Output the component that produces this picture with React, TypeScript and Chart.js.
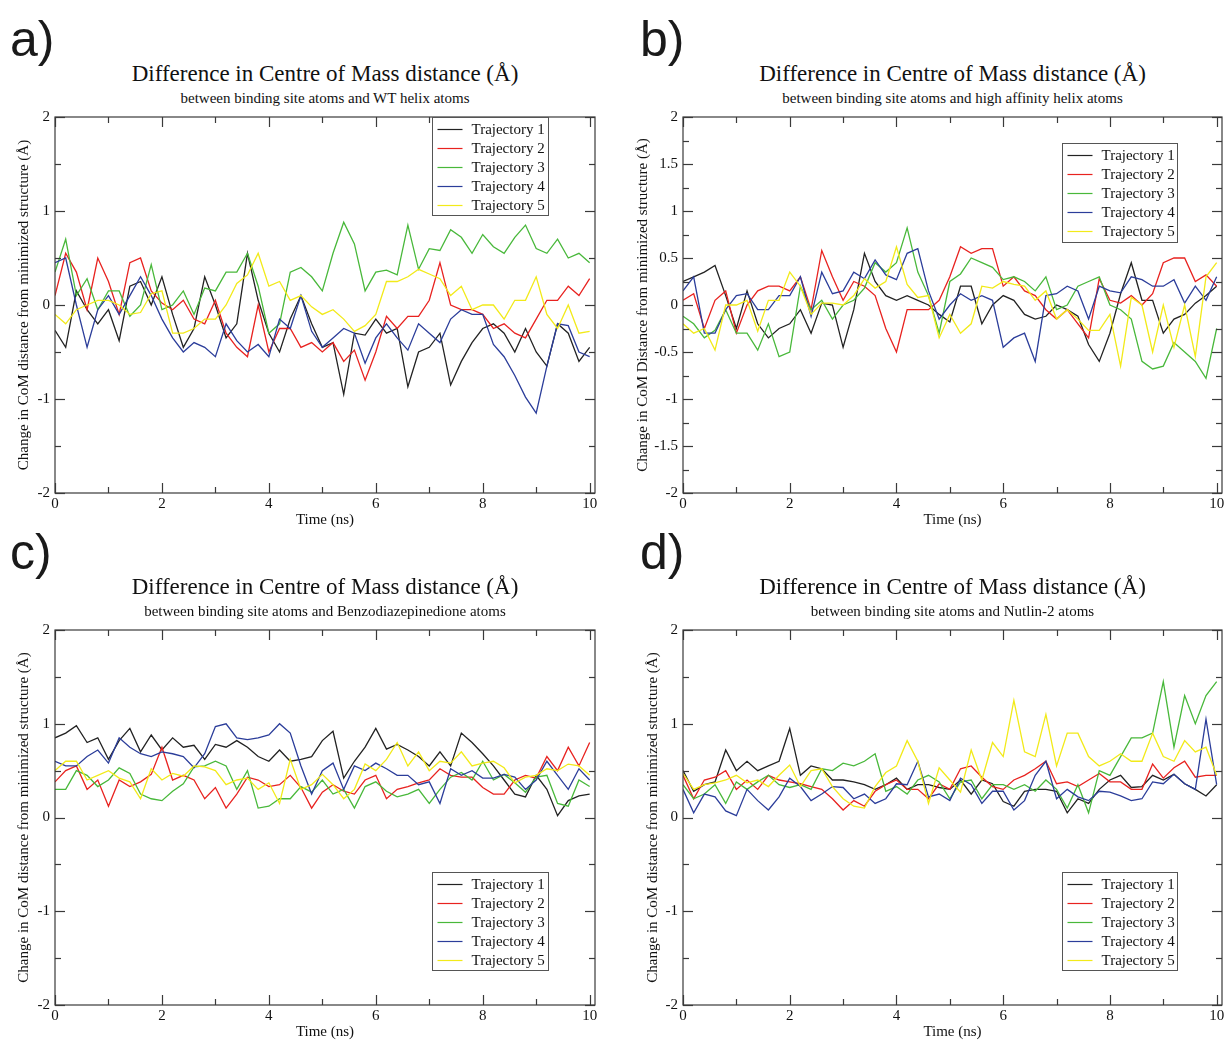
import React, { useEffect, useRef } from "react";
import { Chart, registerables } from "chart.js";

Chart.register(...registerables);

// ---------- data ----------
const TIME = [0, 0.2, 0.4, 0.6, 0.8, 1, 1.2, 1.4, 1.6, 1.8, 2, 2.2, 2.4, 2.6, 2.8, 3, 3.2, 3.4, 3.6, 3.8, 4, 4.2, 4.4, 4.6, 4.8, 5, 5.2, 5.4, 5.6, 5.8, 6, 6.2, 6.4, 6.6, 6.8, 7, 7.2, 7.4, 7.6, 7.8, 8, 8.2, 8.4, 8.6, 8.8, 9, 9.2, 9.4, 9.6, 9.8, 10];

const SERIES_LABELS = ["Trajectory 1", "Trajectory 2", "Trajectory 3", "Trajectory 4", "Trajectory 5"];

const TITLE = "Difference in Centre of Mass distance (Å)";
const SUBTITLES = [
  "between binding site atoms and WT helix atoms",
  "between binding site atoms and high affinity helix atoms",
  "between binding site atoms and Benzodiazepinedione atoms",
  "between binding site atoms and Nutlin-2 atoms",
];
const Y_TITLES = [
  "Change in CoM distance from minimized structure (Å)",
  "Change in CoM Distance from minimized structure (Å)",
  "Change in CoM distance from minimized structure (Å)",
  "Change in CoM distance from minimized structure (Å)",
];
const X_TITLE = "Time (ns)";
const PANEL_LETTERS = ["a)", "b)", "c)", "d)"];

const X_TICKS = [0, 2, 4, 6, 8, 10];
const X_MINOR = [1, 3, 5, 7, 9];
const Y_TICKS_INT = [-2, -1, 0, 1, 2];
const Y_MINOR_INT = [-1.5, -0.5, 0.5, 1.5];
const Y_TICKS_HALF = [-2, -1.5, -1, -0.5, 0, 0.5, 1, 1.5, 2];
const Y_MINOR_HALF = [-1.75, -1.25, -0.75, -0.25, 0.25, 0.75, 1.25, 1.75];

// Panel a: WT helix
const A_TRAJ1 = [-0.27, -0.45, 0.15, -0.05, -0.2, -0.05, -0.38, 0.2, 0.25, 0.0, 0.3, -0.1, -0.45, -0.25, 0.3, 0.0, -0.35, -0.2, 0.55, 0.05, -0.3, -0.5, -0.15, 0.1, -0.2, -0.45, -0.4, -0.95, -0.3, -0.32, -0.15, -0.3, -0.25, -0.87, -0.5, -0.45, -0.3, -0.85, -0.6, -0.4, -0.25, -0.2, -0.3, -0.5, -0.25, -0.5, -0.65, -0.2, -0.3, -0.6, -0.45];
const A_TRAJ2 = [0.1, 0.55, 0.35, -0.05, 0.5, 0.25, -0.1, 0.45, 0.5, 0.15, 0.02, -0.05, 0.05, -0.15, -0.2, 0.05, -0.3, -0.45, -0.55, 0.0, -0.5, -0.25, -0.25, -0.45, -0.4, -0.5, -0.4, -0.6, -0.48, -0.8, -0.5, -0.12, -0.25, -0.12, -0.12, 0.05, 0.45, 0.0, -0.05, -0.05, -0.1, -0.25, -0.2, -0.3, -0.35, -0.15, 0.05, 0.05, 0.2, 0.1, 0.28];
const A_TRAJ3 = [0.35, 0.7, 0.1, 0.28, -0.05, 0.15, 0.15, -0.12, 0.0, 0.43, -0.05, 0.0, 0.15, -0.1, 0.18, 0.15, 0.35, 0.35, 0.55, 0.2, -0.3, -0.2, 0.35, 0.4, 0.3, 0.15, 0.55, 0.88, 0.65, 0.15, 0.35, 0.37, 0.32, 0.85, 0.38, 0.6, 0.58, 0.8, 0.72, 0.55, 0.75, 0.62, 0.55, 0.72, 0.85, 0.6, 0.55, 0.7, 0.5, 0.55, 0.45];
const A_TRAJ4 = [0.45, 0.5, 0.0, -0.45, -0.05, 0.1, -0.1, 0.1, 0.3, 0.1, -0.15, -0.35, -0.5, -0.4, -0.45, -0.55, -0.2, -0.38, -0.5, -0.42, -0.55, -0.15, -0.25, 0.1, -0.28, -0.45, -0.35, -0.25, -0.3, -0.62, -0.35, -0.2, -0.35, -0.48, -0.2, -0.3, -0.4, -0.15, -0.05, -0.1, -0.1, -0.42, -0.55, -0.75, -0.98, -1.15, -0.65, -0.2, -0.22, -0.5, -0.55];
const A_TRAJ5 = [-0.1, -0.2, -0.05, 0.0, 0.05, 0.05, 0.0, -0.1, -0.08, 0.12, 0.15, -0.3, -0.3, -0.25, -0.15, -0.15, 0.0, 0.23, 0.32, 0.55, 0.2, 0.25, 0.05, 0.1, -0.02, -0.1, -0.05, -0.15, -0.28, -0.22, -0.1, 0.25, 0.25, 0.3, 0.38, 0.33, 0.28, 0.1, 0.2, -0.05, 0.0, 0.0, -0.15, 0.05, 0.05, 0.3, -0.1, -0.25, 0.0, -0.3, -0.28];

// Panel b: high affinity helix
const B_TRAJ1 = [0.25, 0.3, 0.35, 0.42, 0.1, -0.25, 0.15, -0.2, -0.35, -0.25, -0.2, -0.05, -0.3, 0.02, 0.0, -0.45, -0.05, 0.55, 0.25, 0.1, 0.05, 0.1, 0.05, 0.0, -0.1, -0.18, 0.2, 0.2, -0.2, 0.0, 0.1, 0.05, -0.1, -0.15, -0.12, 0.0, -0.05, -0.12, -0.42, -0.6, -0.3, 0.12, 0.45, 0.05, 0.05, -0.3, -0.15, -0.1, 0.02, 0.1, 0.2];
const B_TRAJ2 = [0.05, 0.12, -0.25, 0.05, 0.15, -0.3, 0.0, 0.15, 0.2, 0.2, 0.15, 0.3, -0.05, 0.58, 0.3, 0.05, 0.25, 0.2, 0.1, -0.25, -0.5, -0.05, -0.05, -0.05, 0.05, 0.3, 0.62, 0.55, 0.6, 0.6, 0.2, 0.3, 0.15, 0.1, -0.05, -0.15, -0.05, -0.2, -0.35, 0.28, 0.05, 0.02, 0.1, 0.0, 0.12, 0.45, 0.5, 0.5, 0.25, 0.32, 0.2];
const B_TRAJ3 = [-0.12, -0.2, -0.35, -0.27, -0.05, -0.3, -0.3, -0.48, -0.2, -0.55, -0.5, 0.2, -0.05, 0.05, -0.15, 0.0, 0.05, 0.18, 0.45, 0.35, 0.45, 0.82, 0.35, 0.1, -0.3, 0.25, 0.33, 0.5, 0.45, 0.4, 0.27, 0.3, 0.25, 0.15, 0.3, -0.05, 0.0, 0.2, 0.25, 0.3, 0.0, -0.05, -0.15, -0.6, -0.68, -0.65, -0.4, -0.5, -0.6, -0.78, -0.25];
const B_TRAJ4 = [0.15, 0.3, -0.3, -0.3, -0.05, 0.1, 0.12, -0.05, -0.05, 0.1, 0.1, 0.3, -0.12, 0.35, 0.12, 0.15, 0.35, 0.28, 0.48, 0.32, 0.27, 0.55, 0.6, 0.15, -0.15, 0.0, 0.12, 0.05, 0.1, 0.05, -0.45, -0.35, -0.3, -0.6, 0.1, 0.12, 0.2, 0.15, -0.15, 0.2, 0.15, 0.13, 0.3, 0.27, 0.2, 0.2, 0.27, 0.02, 0.2, 0.05, 0.3];
const B_TRAJ5 = [-0.2, -0.3, -0.25, -0.48, 0.0, 0.0, 0.05, -0.28, 0.05, 0.05, 0.35, 0.2, -0.1, 0.02, 0.02, 0.0, 0.1, 0.28, 0.18, 0.25, 0.62, 0.22, 0.08, 0.1, -0.35, -0.1, -0.3, -0.2, 0.2, 0.18, 0.25, 0.22, 0.2, 0.05, 0.15, -0.15, -0.05, -0.15, -0.27, -0.27, -0.1, -0.65, 0.08, 0.0, -0.5, 0.0, -0.45, 0.0, -0.55, 0.3, 0.45];

// Panel c: Benzodiazepinedione
const C_TRAJ1 = [0.85, 0.9, 0.98, 0.8, 0.85, 0.62, 0.82, 0.95, 0.7, 0.88, 0.72, 0.85, 0.75, 0.77, 0.62, 0.78, 0.75, 0.82, 0.75, 0.65, 0.6, 0.72, 0.6, 0.62, 0.65, 0.82, 0.92, 0.42, 0.6, 0.75, 0.95, 0.73, 0.78, 0.72, 0.65, 0.55, 0.7, 0.55, 0.9, 0.8, 0.68, 0.55, 0.4, 0.25, 0.22, 0.45, 0.3, 0.02, 0.18, 0.23, 0.25];
const C_TRAJ2 = [0.38, 0.5, 0.55, 0.3, 0.4, 0.12, 0.4, 0.33, 0.38, 0.46, 0.75, 0.4, 0.45, 0.4, 0.2, 0.32, 0.1, 0.25, 0.43, 0.4, 0.33, 0.35, 0.45, 0.32, 0.1, 0.27, 0.35, 0.28, 0.25, 0.4, 0.45, 0.2, 0.3, 0.33, 0.37, 0.4, 0.52, 0.45, 0.43, 0.43, 0.32, 0.25, 0.25, 0.4, 0.45, 0.42, 0.65, 0.5, 0.75, 0.55, 0.8];
const C_TRAJ3 = [0.3, 0.3, 0.5, 0.45, 0.33, 0.4, 0.53, 0.47, 0.25, 0.2, 0.18, 0.28, 0.36, 0.54, 0.55, 0.6, 0.55, 0.3, 0.5, 0.1, 0.12, 0.2, 0.2, 0.33, 0.27, 0.4, 0.25, 0.3, 0.1, 0.33, 0.38, 0.28, 0.22, 0.25, 0.3, 0.15, 0.3, 0.43, 0.48, 0.4, 0.6, 0.4, 0.46, 0.37, 0.27, 0.43, 0.45, 0.15, 0.12, 0.4, 0.33];
const C_TRAJ4 = [0.6, 0.55, 0.55, 0.65, 0.72, 0.58, 0.85, 0.75, 0.68, 0.65, 0.7, 0.68, 0.65, 0.53, 0.68, 0.97, 1.0, 0.85, 0.83, 0.85, 0.88, 1.0, 0.9, 0.55, 0.25, 0.5, 0.58, 0.3, 0.55, 0.5, 0.58, 0.52, 0.45, 0.45, 0.35, 0.38, 0.15, 0.52, 0.45, 0.5, 0.42, 0.42, 0.46, 0.43, 0.3, 0.4, 0.6, 0.45, 0.3, 0.52, 0.4];
const C_TRAJ5 = [0.5, 0.6, 0.6, 0.4, 0.45, 0.5, 0.42, 0.38, 0.2, 0.52, 0.4, 0.47, 0.44, 0.55, 0.54, 0.5, 0.35, 0.4, 0.42, 0.3, 0.37, 0.15, 0.62, 0.3, 0.35, 0.46, 0.35, 0.2, 0.3, 0.57, 0.5, 0.62, 0.8, 0.55, 0.7, 0.5, 0.6, 0.58, 0.7, 0.55, 0.58, 0.6, 0.53, 0.37, 0.43, 0.45, 0.52, 0.5, 0.57, 0.55, 0.45];

// Panel d: Nutlin-2
const D_TRAJ1 = [0.5, 0.28, 0.35, 0.38, 0.72, 0.5, 0.6, 0.5, 0.55, 0.6, 0.95, 0.45, 0.55, 0.52, 0.4, 0.4, 0.38, 0.35, 0.3, 0.35, 0.42, 0.3, 0.35, 0.35, 0.32, 0.3, 0.4, 0.25, 0.4, 0.36, 0.17, 0.12, 0.28, 0.3, 0.3, 0.28, 0.05, 0.2, 0.15, 0.3, 0.4, 0.45, 0.32, 0.33, 0.45, 0.4, 0.46, 0.36, 0.3, 0.23, 0.35];
const D_TRAJ2 = [0.45, 0.2, 0.4, 0.43, 0.5, 0.3, 0.4, 0.3, 0.45, 0.4, 0.38, 0.36, 0.33, 0.3, 0.2, 0.08, 0.18, 0.12, 0.28, 0.35, 0.4, 0.3, 0.3, 0.2, 0.36, 0.3, 0.52, 0.55, 0.43, 0.33, 0.3, 0.4, 0.45, 0.52, 0.6, 0.36, 0.38, 0.33, 0.4, 0.47, 0.38, 0.38, 0.3, 0.3, 0.57, 0.42, 0.53, 0.6, 0.43, 0.45, 0.45];
const D_TRAJ3 = [0.35, 0.2, 0.25, 0.35, 0.15, 0.38, 0.3, 0.38, 0.45, 0.35, 0.32, 0.35, 0.3, 0.52, 0.5, 0.58, 0.55, 0.6, 0.68, 0.28, 0.33, 0.25, 0.4, 0.45, 0.38, 0.2, 0.38, 0.4, 0.2, 0.35, 0.35, 0.3, 0.35, 0.28, 0.4, 0.3, 0.1, 0.35, 0.05, 0.5, 0.45, 0.65, 0.85, 0.85, 0.9, 1.45, 0.75, 1.3, 1.0, 1.3, 1.45];
const D_TRAJ4 = [0.3, 0.05, 0.25, 0.22, 0.07, 0.02, 0.3, 0.18, 0.08, 0.22, 0.42, 0.33, 0.18, 0.25, 0.33, 0.32, 0.2, 0.25, 0.15, 0.2, 0.36, 0.35, 0.6, 0.22, 0.25, 0.18, 0.42, 0.35, 0.15, 0.28, 0.28, 0.08, 0.18, 0.45, 0.6, 0.2, 0.3, 0.22, 0.18, 0.28, 0.27, 0.23, 0.18, 0.2, 0.38, 0.36, 0.46, 0.36, 0.3, 1.05, 0.35];
const D_TRAJ5 = [0.47, 0.3, 0.35, 0.37, 0.4, 0.45, 0.37, 0.4, 0.33, 0.45, 0.56, 0.33, 0.5, 0.52, 0.33, 0.2, 0.12, 0.1, 0.33, 0.48, 0.55, 0.82, 0.6, 0.15, 0.53, 0.4, 0.27, 0.72, 0.4, 0.8, 0.65, 1.25, 0.7, 0.65, 1.1, 0.55, 0.9, 0.9, 0.65, 0.55, 0.6, 0.68, 0.6, 0.6, 0.9, 0.65, 0.6, 0.82, 0.7, 0.75, 0.45];

const PANEL_SERIES = [
  [A_TRAJ1, A_TRAJ2, A_TRAJ3, A_TRAJ4, A_TRAJ5],
  [B_TRAJ1, B_TRAJ2, B_TRAJ3, B_TRAJ4, B_TRAJ5],
  [C_TRAJ1, C_TRAJ2, C_TRAJ3, C_TRAJ4, C_TRAJ5],
  [D_TRAJ1, D_TRAJ2, D_TRAJ3, D_TRAJ4, D_TRAJ5],
];

// ---------- style / layout ----------
const SERIES_COLORS = ["#222222", "#e8221f", "#48b83a", "#2b3d9a", "#f2ea19"];
const SERIF = "'Liberation Serif', 'Times New Roman', serif";
const SANS = "'Liberation Sans', Arial, sans-serif";
const AXIS_COLOR = "#3a3a3a";
const TEXT_COLOR = "#111111";
const X_MIN = 0;
const X_MAX = 10.1;
const Y_MIN = -2;
const Y_MAX = 2;

const LAYOUT = [
  { cx: 0, cy: 100, cw: 612, ch: 430, padTop: 17, padRight: 17, yAxisW: 55, xAxisH: 37, xTitlePad: 2.5, yTitlePad: 16.5,
    legend: { x: 377, y: 0, w: 116, h: 98 }, letterX: 10, letterY: 14, titleCX: 325, titleY: 61.5, subY: 90.5,
    yTicks: Y_TICKS_INT, yMinor: Y_MINOR_INT },
  { cx: 628, cy: 100, cw: 597, ch: 430, padTop: 17, padRight: 3, yAxisW: 55, xAxisH: 37, xTitlePad: 2.5, yTitlePad: 7.5,
    legend: { x: 379, y: 26, w: 115, h: 99 }, letterX: 640, letterY: 14, titleCX: 952.5, titleY: 61.5, subY: 90.5,
    yTicks: Y_TICKS_HALF, yMinor: Y_MINOR_HALF },
  { cx: 0, cy: 613, cw: 612, ch: 427, padTop: 17, padRight: 17, yAxisW: 55, xAxisH: 35, xTitlePad: 0, yTitlePad: 16.5,
    legend: { x: 377, y: 242, w: 116, h: 98 }, letterX: 10, letterY: 527, titleCX: 325, titleY: 574.5, subY: 603.5,
    yTicks: Y_TICKS_INT, yMinor: Y_MINOR_INT },
  { cx: 628, cy: 613, cw: 597, ch: 427, padTop: 17, padRight: 3, yAxisW: 55, xAxisH: 35, xTitlePad: 0, yTitlePad: 17.5,
    legend: { x: 379, y: 242, w: 115, h: 98 }, letterX: 640, letterY: 527, titleCX: 952.5, titleY: 574.5, subY: 603.5,
    yTicks: Y_TICKS_INT, yMinor: Y_MINOR_INT },
];

const MAJOR_LEN = 10;
const MINOR_LEN = 6;

function ChartPanel({ index }: { index: number }) {
  const ref = useRef<HTMLCanvasElement | null>(null);
  const L = LAYOUT[index];

  useEffect(() => {
    const canvas = ref.current;
    if (!canvas) return;
    const series = PANEL_SERIES[index];

    const framePlugin = {
      id: "frameTicks",
      afterDatasetsDraw(chart: any) {
        const { ctx, chartArea } = chart;
        const { left, right, top, bottom } = chartArea;
        const xs = chart.scales.x;
        const ys = chart.scales.y;
        ctx.save();
        ctx.strokeStyle = AXIS_COLOR;
        ctx.lineWidth = 1.2;
        ctx.strokeRect(left, top, right - left, bottom - top);
        const seg = (x1: number, y1: number, x2: number, y2: number) => {
          ctx.beginPath();
          ctx.moveTo(x1, y1);
          ctx.lineTo(x2, y2);
          ctx.stroke();
        };
        const xt = (v: number, len: number) => {
          const px = Math.round(xs.getPixelForValue(v)) + 0.5;
          seg(px, bottom, px, bottom - len);
          seg(px, top, px, top + len);
        };
        const yt = (v: number, len: number) => {
          const py = Math.round(ys.getPixelForValue(v)) + 0.5;
          seg(left, py, left + len, py);
          seg(right, py, right - len, py);
        };
        X_TICKS.forEach((v) => xt(v, MAJOR_LEN));
        X_MINOR.forEach((v) => xt(v, MINOR_LEN));
        L.yTicks.forEach((v) => yt(v, MAJOR_LEN));
        L.yMinor.forEach((v) => yt(v, MINOR_LEN));
        ctx.restore();
      },
    };

    const legendPlugin = {
      id: "boxLegend",
      afterDraw(chart: any) {
        const { ctx, chartArea } = chart;
        const bx = Math.round(chartArea.left + L.legend.x) + 0.5;
        const by = Math.round(chartArea.top + L.legend.y) + 0.5;
        ctx.save();
        ctx.fillStyle = "#ffffff";
        ctx.fillRect(bx, by, L.legend.w, L.legend.h);
        ctx.strokeStyle = "#555555";
        ctx.lineWidth = 1;
        ctx.strokeRect(bx, by, L.legend.w, L.legend.h);
        ctx.font = `15px ${SERIF}`;
        ctx.textBaseline = "middle";
        ctx.textAlign = "left";
        SERIES_LABELS.forEach((lab, i) => {
          const ry = by + 12 + 19 * i;
          ctx.strokeStyle = SERIES_COLORS[i];
          ctx.lineWidth = 1.2;
          ctx.beginPath();
          ctx.moveTo(bx + 5, ry);
          ctx.lineTo(bx + 30, ry);
          ctx.stroke();
          ctx.fillStyle = TEXT_COLOR;
          ctx.fillText(lab, bx + 39, ry + 1);
        });
        ctx.restore();
      },
    };

    const chart = new Chart(canvas, {
      type: "line",
      data: {
        datasets: series.map((vals, i) => ({
          label: SERIES_LABELS[i],
          data: TIME.map((t, j) => ({ x: t, y: vals[j] })),
          borderColor: SERIES_COLORS[i],
          backgroundColor: SERIES_COLORS[i],
          borderWidth: 1.3,
          pointRadius: 0,
          tension: 0,
          fill: false,
          order: 4 - i,
        })),
      },
      options: {
        responsive: false,
        animation: false,
        layout: { padding: { top: L.padTop, right: L.padRight, left: 0, bottom: 0 } },
        plugins: {
          legend: { display: false },
          tooltip: { enabled: false },
          title: { display: false },
        },
        scales: {
          x: {
            type: "linear",
            position: "bottom",
            min: X_MIN,
            max: X_MAX,
            afterBuildTicks: (s: any) => {
              s.ticks = X_TICKS.map((v) => ({ value: v }));
            },
            afterFit: (s: any) => {
              s.height = L.xAxisH;
              s.paddingLeft = 0;
              s.paddingRight = 0;
              s.paddingTop = 0;
              s.paddingBottom = 0;
            },
            grid: { display: false, drawTicks: false },
            border: { display: false },
            ticks: {
              font: { family: SERIF, size: 15, lineHeight: 1 },
              color: TEXT_COLOR,
              padding: 4,
              maxRotation: 0,
              autoSkip: false,
              callback: (v: any) => String(v),
            },
            title: {
              display: true,
              text: X_TITLE,
              font: { family: SERIF, size: 15, lineHeight: 1 },
              color: TEXT_COLOR,
              padding: { top: 0, bottom: L.xTitlePad },
            },
          },
          y: {
            type: "linear",
            position: "left",
            min: Y_MIN,
            max: Y_MAX,
            afterBuildTicks: (s: any) => {
              s.ticks = L.yTicks.map((v) => ({ value: v }));
            },
            afterFit: (s: any) => {
              s.width = L.yAxisW;
              s.paddingLeft = 0;
              s.paddingRight = 0;
              s.paddingTop = 0;
              s.paddingBottom = 0;
            },
            grid: { display: false, drawTicks: false },
            border: { display: false },
            ticks: {
              font: { family: SERIF, size: 15, lineHeight: 1 },
              color: TEXT_COLOR,
              padding: 5,
              autoSkip: false,
              callback: (v: any) => String(v),
            },
            title: {
              display: true,
              text: Y_TITLES[index],
              font: { family: SERIF, size: 15, lineHeight: 1 },
              color: TEXT_COLOR,
              padding: { top: L.yTitlePad, bottom: 0 },
            },
          },
        },
      } as any,
      plugins: [framePlugin, legendPlugin],
    } as any);

    return () => chart.destroy();
  }, [index]);

  return (
    <canvas
      ref={ref}
      width={L.cw}
      height={L.ch}
      style={{ position: "absolute", left: L.cx, top: L.cy, width: L.cw, height: L.ch }}
    />
  );
}

function PanelText({ index }: { index: number }) {
  const L = LAYOUT[index];
  return (
    <>
      <div
        style={{
          position: "absolute", left: L.letterX, top: L.letterY, fontFamily: SANS, fontSize: 50,
          lineHeight: "50px", color: "#1a1a1a", whiteSpace: "nowrap",
        }}
      >
        {PANEL_LETTERS[index]}
      </div>
      <div
        style={{
          position: "absolute", left: L.titleCX - 300, width: 600, top: L.titleY, textAlign: "center",
          fontFamily: SERIF, fontSize: 23, lineHeight: "23px", color: TEXT_COLOR, whiteSpace: "nowrap",
        }}
      >
        {TITLE}
      </div>
      <div
        style={{
          position: "absolute", left: L.titleCX - 300, width: 600, top: L.subY, textAlign: "center",
          fontFamily: SERIF, fontSize: 15, lineHeight: "15px", color: TEXT_COLOR, whiteSpace: "nowrap",
        }}
      >
        {SUBTITLES[index]}
      </div>
    </>
  );
}

export default function App() {
  return (
    <div style={{ position: "absolute", left: 0, top: 0, width: 1225, height: 1040, background: "#ffffff", overflow: "hidden" }}>
      {[0, 1, 2, 3].map((i) => (
        <React.Fragment key={i}>
          <PanelText index={i} />
          <ChartPanel index={i} />
        </React.Fragment>
      ))}
    </div>
  );
}
